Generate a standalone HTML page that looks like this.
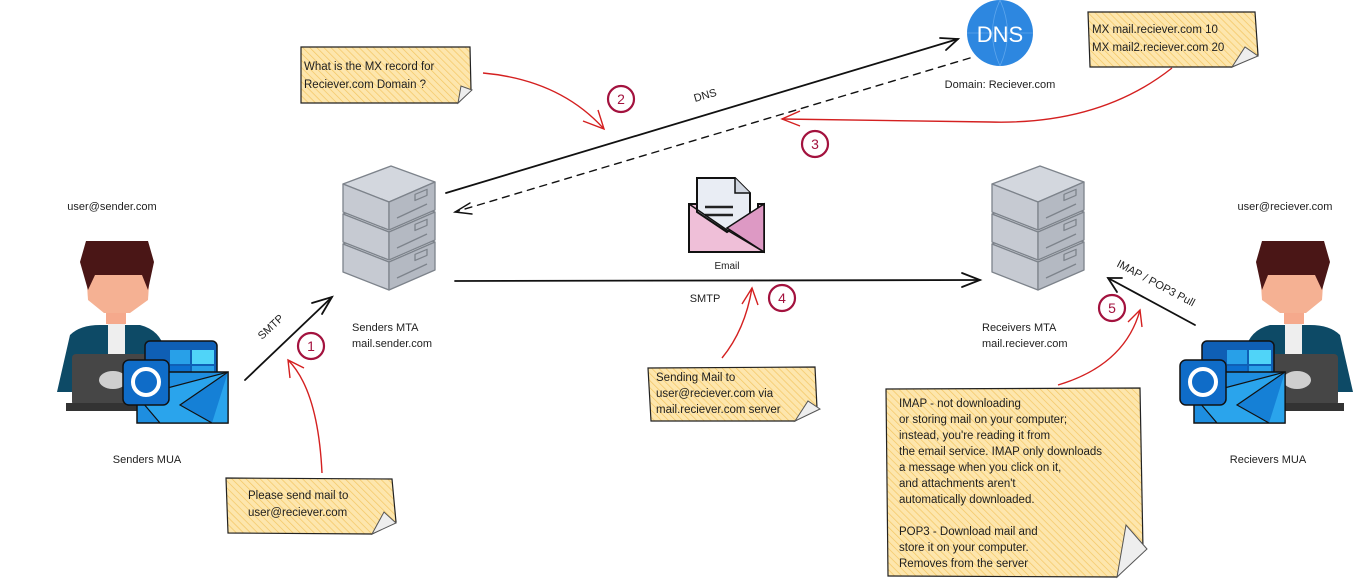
<!DOCTYPE html>
<html><head><meta charset="utf-8"><style>
html,body{margin:0;padding:0;background:#fff;}
svg{display:block;}
text{font-family:"Liberation Sans",sans-serif;fill:#1e1e1e;}
</style></head><body>
<svg width="1358" height="582" viewBox="0 0 1358 582" xmlns="http://www.w3.org/2000/svg">
<defs>
<pattern id="h" width="5" height="5" patternUnits="userSpaceOnUse" patternTransform="rotate(-45)">
<rect width="5" height="5" fill="#fde6ad"/><line x1="0" y1="0" x2="0" y2="5" stroke="#f3c663" stroke-width="1.4"/>
</pattern>
<g id="box" stroke="#7d838b" stroke-width="1.3" stroke-linejoin="round">
<path d="M0 18 L48 0 L92 16 L46 36Z" fill="#d3d7de"/>
<path d="M0 18 L46 36 L46 64 L0 46Z" fill="#c6cad2"/>
<path d="M46 36 L92 16 L92 44 L46 64Z" fill="#b4b9c2"/>
<path d="M54 52 L84 38" fill="none"/>
<rect x="72" y="26" width="12" height="6" fill="none" transform="skewY(-23) translate(0,33)"/>
</g>
<g id="srv">
<use href="#box" y="60"/><use href="#box" y="30"/><use href="#box" y="0"/>
</g>
<g id="body">
<path d="M57 392 L70 335 Q80 325 100 325 L140 325 Q160 330 165 350 L170 392Z" fill="#0d4a66"/>
<rect x="108" y="322" width="17" height="60" fill="#eeeeee"/>
<rect x="106" y="308" width="20" height="16" fill="#f5a98c"/>
<path d="M86 270 L150 270 L148 300 L130 313 L104 313 L88 300Z" fill="#f5b193"/>
<path d="M86 241 L148 241 L154 262 L148 290 L142 275 L95 275 L88 290 L80 262Z" fill="#4a1616"/>
<rect x="72" y="354" width="80" height="52" rx="4" fill="#464646"/>
<ellipse cx="113" cy="380" rx="14" ry="9" fill="#cfcfcf"/>
<rect x="66" y="403" width="90" height="8" fill="#333"/>
</g>
<g id="outlook">
<rect x="145" y="341" width="72" height="55" rx="5" fill="#0f5fb5" stroke="#111" stroke-width="1.5"/>
<rect x="170" y="350" width="20" height="14" fill="#28a0e8"/><rect x="192" y="350" width="22" height="14" fill="#50d4f8"/>
<rect x="170" y="366" width="20" height="14" fill="#0b6fd0"/><rect x="192" y="366" width="22" height="14" fill="#28a0e8"/>
<path d="M137 372 L228 372 L228 423 L137 423Z" fill="#1e8ee0" stroke="#111" stroke-width="1.5"/>
<path d="M137 396 L228 372 L228 423 L160 423Z" fill="#2aa4ec" stroke="#111" stroke-width="1.2"/>
<path d="M228 372 L180 405 L212 423" fill="#1580d6" stroke="#111" stroke-width="1.2"/>
<rect x="123" y="360" width="46" height="45" rx="6" fill="#0f6cc8" stroke="#111" stroke-width="1.5"/>
<ellipse cx="146" cy="382" rx="13" ry="13" fill="none" stroke="#fff" stroke-width="4"/>
</g>
</defs>

<!-- stickies -->
<path d="M301 47 L470 47 L471 90 L458 103 L301 103Z" fill="url(#h)" stroke="#222" stroke-width="1.2"/>
<path d="M458 103 L461 86 L472 90Z" fill="#eee" stroke="#555"/>
<text font-size="11.5"><tspan x="304" y="70">What is the MX record for</tspan><tspan x="304" y="88">Reciever.com Domain ?</tspan></text>

<path d="M1088 12 L1255 12 L1258 55 L1232 67 L1090 67Z" fill="url(#h)" stroke="#222" stroke-width="1.2"/>
<path d="M1232 67 L1245 47 L1258 56Z" fill="#eee" stroke="#555"/>
<text font-size="11.5"><tspan x="1092" y="33">MX mail.reciever.com 10</tspan><tspan x="1092" y="51">MX mail2.reciever.com 20</tspan></text>

<path d="M226 478 L392 479 L396 522 L372 534 L228 533Z" fill="url(#h)" stroke="#222" stroke-width="1.2"/>
<path d="M372 534 L384 512 L396 523Z" fill="#eee" stroke="#555"/>
<text font-size="11.5"><tspan x="248" y="499">Please send mail to</tspan><tspan x="248" y="516">user@reciever.com</tspan></text>

<path d="M648 368 L815 367 L817 408 L795 421 L651 421Z" fill="url(#h)" stroke="#222" stroke-width="1.2"/>
<path d="M795 421 L808 401 L820 409Z" fill="#eee" stroke="#555"/>
<text font-size="11.5"><tspan x="656" y="381">Sending Mail to</tspan><tspan x="656" y="397">user@reciever.com via</tspan><tspan x="656" y="413">mail.reciever.com server</tspan></text>

<path d="M886 389 L1140 388 L1143 550 L1117 577 L888 576Z" fill="url(#h)" stroke="#222" stroke-width="1.2"/>
<path d="M1117 577 L1126 525 L1147 549Z" fill="#eee" stroke="#555"/>
<text font-size="11.5"><tspan x="899" y="407">IMAP - not downloading</tspan><tspan x="899" y="423">or storing mail on your computer;</tspan><tspan x="899" y="439">instead, you're reading it from</tspan><tspan x="899" y="455">the email service. IMAP only downloads</tspan><tspan x="899" y="471">a message when you click on it,</tspan><tspan x="899" y="487">and attachments aren't</tspan><tspan x="899" y="503">automatically downloaded.</tspan><tspan x="899" y="535">POP3 - Download mail and</tspan><tspan x="899" y="551">store it on your computer.</tspan><tspan x="899" y="567">Removes from the server</tspan></text>

<!-- DNS -->
<circle cx="1000" cy="33" r="33" fill="#2d87e0"/>
<path d="M1000 0 Q985 33 1000 66 M1000 0 Q1015 33 1000 66 M967 33 L1033 33" stroke="#5ea6ec" fill="none" stroke-width="0.8"/>
<text x="1000" y="42" font-size="22" text-anchor="middle" style="fill:#fff">DNS</text>
<text x="1000" y="88" font-size="11" text-anchor="middle">Domain: Reciever.com</text>

<!-- servers -->
<use href="#srv" x="343" y="166"/>
<use href="#srv" x="992" y="166"/>

<!-- email icon -->
<path d="M697 178 L735 178 L750 193 L750 232 L697 232Z" fill="#e9edf4" stroke="#111" stroke-width="2"/>
<path d="M735 178 L735 193 L750 193" fill="#d0d6e0" stroke="#111" stroke-width="1.5"/>
<path d="M705 207 L733 207 M705 215 L733 215" stroke="#222" stroke-width="2.5"/>
<path d="M689 204 L697 204 L697 212 L727 232 L758 212 L758 204 L764 204 L764 252 L689 252Z" fill="#efbfd8" stroke="#111" stroke-width="2"/>
<path d="M764 204 L764 252 L727 228Z" fill="#dd99c4" stroke="#111" stroke-width="1.5"/>
<path d="M689 204 L727 230 M727 230 L764 252" stroke="#111" stroke-width="1.5" fill="none"/>
<text x="727" y="269" font-size="10" text-anchor="middle">Email</text>

<!-- persons -->
<use href="#body"/><use href="#outlook"/>
<g transform="translate(1410,0) scale(-1,1)"><use href="#body"/></g>
<use href="#outlook" x="1057"/>

<!-- labels -->
<g font-size="11">
<text x="112" y="210" text-anchor="middle">user@sender.com</text>
<text x="147" y="463" text-anchor="middle">Senders MUA</text>
<text x="352" y="331">Senders MTA</text><text x="352" y="347">mail.sender.com</text>
<text x="982" y="331">Receivers MTA</text><text x="982" y="347">mail.reciever.com</text>
<text x="1285" y="210" text-anchor="middle">user@reciever.com</text>
<text x="1268" y="463" text-anchor="middle">Recievers MUA</text>
<text x="705" y="302" text-anchor="middle">SMTP</text>
<text x="0" y="0" transform="translate(695,102) rotate(-16)">DNS</text>
<text x="0" y="0" transform="translate(262,340) rotate(-43)">SMTP</text>
<text x="0" y="0" transform="translate(1116,266) rotate(28)">IMAP / POP3 Pull</text>
</g>

<!-- black connectors -->
<g stroke="#111" fill="none" stroke-width="1.8" stroke-linecap="round">
<path d="M446 193 L958 39"/><path d="M940 38 L958 39 L946 50"/>
<path d="M970 58 L455 212" stroke-dasharray="7 6" stroke-width="1.4"/><path d="M470 203 L455 212 L472 214" stroke-width="1.4"/>
<path d="M455 281 L980 280"/><path d="M962 273 L980 280 L962 287"/>
<path d="M245 380 L332 297"/><path d="M312 303 L332 297 L322 314"/>
<path d="M1195 325 L1108 278"/><path d="M1122 278 L1108 278 L1117 292"/>
</g>

<!-- red connectors -->
<g stroke="#d42020" fill="none" stroke-width="1.4">
<path d="M483 73 Q560 80 604 129"/><path d="M583 121 L604 129 L598 110"/>
<path d="M1172 68 Q1100 125 990 122 L782 119"/><path d="M800 111 L782 119 L800 126"/>
<path d="M322 473 Q318 390 288 360"/><path d="M290 378 L288 360 L304 368"/>
<path d="M722 358 Q745 330 752 288"/><path d="M742 304 L752 288 L758 305"/>
<path d="M1058 385 Q1125 365 1140 310"/><path d="M1128 322 L1140 310 L1142 327"/>
</g>

<!-- numbered circles -->
<g stroke="#a3123e" stroke-width="2.2" fill="#fff">
<circle cx="311" cy="346" r="13"/><circle cx="621" cy="99" r="13"/><circle cx="815" cy="144" r="13"/><circle cx="782" cy="298" r="13"/><circle cx="1112" cy="308" r="13"/>
</g>
<g font-size="14" text-anchor="middle">
<text x="311" y="351" style="fill:#a3123e">1</text><text x="621" y="104" style="fill:#a3123e">2</text><text x="815" y="149" style="fill:#a3123e">3</text><text x="782" y="303" style="fill:#a3123e">4</text><text x="1112" y="313" style="fill:#a3123e">5</text>
</g>
</svg>
</body></html>
